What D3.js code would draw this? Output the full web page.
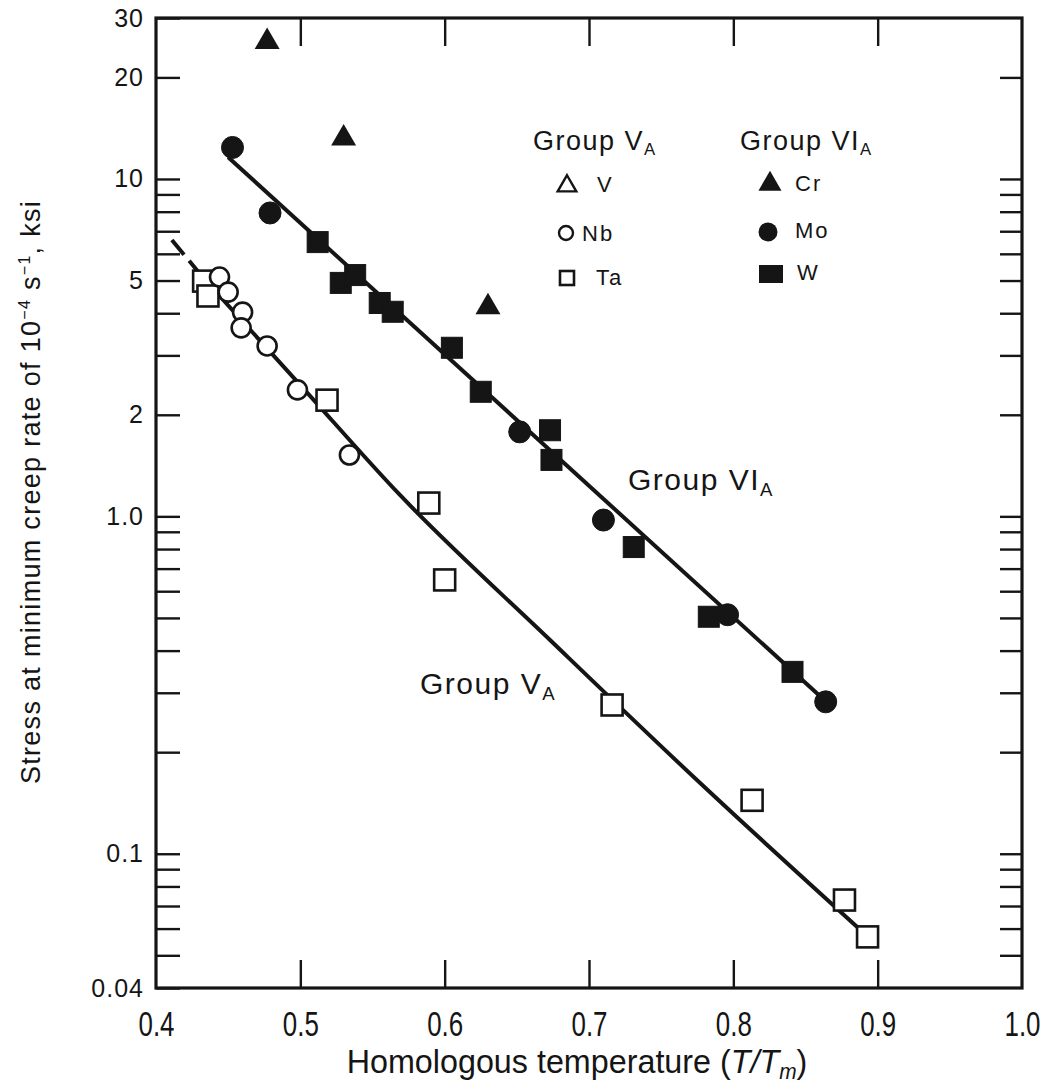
<!DOCTYPE html>
<html>
<head>
<meta charset="utf-8">
<script src="https://cdn.jsdelivr.net/npm/d3@7/dist/d3.min.js"></script>
<style>
  body { margin: 0; background: #fff; }
  svg { display: block; }
  text { fill: #151515; font-family: "Liberation Sans", Arial, sans-serif; }
</style>
</head>
<body>
<div id="plot-container"></div>
<script>
// axis ticks
var xTicks = [0.4, 0.5, 0.6, 0.7, 0.8, 0.9, 1.0];
var xTickLabels = ["0.4", "0.5", "0.6", "0.7", "0.8", "0.9", "1.0"];
var xInnerTicks = [0.5, 0.6, 0.7, 0.8, 0.9];
var yTicks = [0.04, 0.05, 0.06, 0.07, 0.08, 0.09, 0.1, 0.2, 0.3, 0.4, 0.5, 0.6, 0.7, 0.8, 0.9,
              1, 2, 3, 4, 5, 6, 7, 8, 9, 10, 20, 30];
var yLabelValues = [30, 20, 10, 5, 2, 1, 0.1, 0.04];
var yLabelText = ["30", "20", "10", "5", "2", "1.0", "0.1", "0.04"];

// Group VA (open symbols)
var nbT = [0.444, 0.450, 0.460, 0.459, 0.477, 0.498, 0.534];
var nbS = [5.12, 4.62, 4.03, 3.62, 3.20, 2.37, 1.52];
var taT = [0.433, 0.436, 0.5185, 0.589, 0.600, 0.716, 0.813, 0.877, 0.893];
var taS = [4.98, 4.50, 2.21, 1.095, 0.648, 0.276, 0.144, 0.0729, 0.0567];

// Group VIA (filled symbols)
var crT = [0.477, 0.530, 0.630];
var crS = [25.5, 13.2, 4.17];
var moT = [0.453, 0.479, 0.652, 0.710, 0.796, 0.864];
var moS = [12.4, 7.93, 1.78, 0.975, 0.511, 0.282];
var wT = [0.512, 0.528, 0.538, 0.555, 0.564, 0.605, 0.625, 0.673, 0.674, 0.731, 0.783, 0.841];
var wS = [6.50, 4.92, 5.19, 4.29, 4.04, 3.16, 2.34, 1.80, 1.47, 0.811, 0.504, 0.346];

// fitted lines
var fitVIT = [0.450, 0.8615];
var fitVIS = [11.6, 0.2895];
var fitVDashT = [0.411, 0.434];
var fitVDashS = [6.59, 5.02];
var fitVT = [0.434, 0.500, 0.569, 0.673, 0.777, 0.892];
var fitVS = [5.02, 2.45, 1.157, 0.430, 0.162, 0.0574];

var W = 1053, H = 1089;
var padL = 156, padR = 1022, padT = 18, padB = 988;
var ink = "#151515";

var svg = d3.select("#plot-container").append("svg")
    .attr("width", W)
    .attr("height", H)
    .style("background-color", "#fff");

var x = d3.scaleLinear().domain([0.4, 1.0]).range([padL, padR]);
var y = d3.scaleLog().domain([0.04, 30]).range([padB, padT]);

function zip(a, b) { return a.map(function (v, i) { return [v, b[i]]; }); }

function labelFor(v) {
    var i = yLabelValues.findIndex(function (d) { return Math.abs(d - v) < 1e-9; });
    return i < 0 ? "" : yLabelText[i];
}

// left axis
var gl = svg.append("g").attr("transform", "translate(" + padL + ",0)")
    .call(d3.axisLeft(y).tickValues(yTicks).tickSize(-24).tickPadding(12).tickFormat(labelFor));
gl.select(".domain").remove();
gl.selectAll("line").attr("stroke", ink).attr("stroke-width", 2.4);
gl.selectAll("text").style("font-size", "25px").style("letter-spacing", "1px")
    .style("font-family", "'Liberation Sans', Arial, sans-serif").attr("fill", ink);

// right axis
var gr = svg.append("g").attr("transform", "translate(" + padR + ",0)")
    .call(d3.axisRight(y).tickValues(yTicks.filter(function (v) { return v > 0.04 && v < 30; }))
        .tickSize(-22).tickFormat(""));
gr.select(".domain").remove();
gr.selectAll("line").attr("stroke", ink).attr("stroke-width", 2.4);

// bottom axis (narrow, tall digits like the scan)
var gb = svg.append("g").attr("transform", "translate(0," + padB + ")")
    .call(d3.axisBottom(x).tickValues(xTicks).tickSize(-28).tickPadding(22)
        .tickFormat(function (d, i) { return xTickLabels[i]; }));
gb.select(".domain").remove();
gb.selectAll("line").attr("stroke", ink).attr("stroke-width", 2.4)
    .attr("display", function (d) { return (d < 0.45 || d > 0.95) ? "none" : null; });
gb.selectAll("text").style("font-size", "36px")
    .attr("transform", "scale(0.72,1)")
    .style("font-family", "'Liberation Sans', Arial, sans-serif").attr("fill", ink);

// top axis
var gt = svg.append("g").attr("transform", "translate(0," + padT + ")")
    .call(d3.axisTop(x).tickValues(xInnerTicks).tickSize(-28).tickFormat(""));
gt.select(".domain").remove();
gt.selectAll("line").attr("stroke", ink).attr("stroke-width", 2.4);

// frame
svg.append("rect")
    .attr("x", padL).attr("y", padT)
    .attr("width", padR - padL).attr("height", padB - padT)
    .attr("fill", "none").attr("stroke", ink).attr("stroke-width", 3.2);

// lines
var line = d3.line().x(function (d) { return x(d[0]); }).y(function (d) { return y(d[1]); });
svg.append("path").datum(zip(fitVIT, fitVIS))
    .attr("d", line).attr("fill", "none").attr("stroke", ink).attr("stroke-width", 4);
svg.append("path").datum(zip(fitVT, fitVS))
    .attr("d", d3.line().x(function (d) { return x(d[0]); }).y(function (d) { return y(d[1]); })
        .curve(d3.curveMonotoneX))
    .attr("fill", "none").attr("stroke", ink).attr("stroke-width", 4);
svg.append("path").datum(zip(fitVDashT, fitVDashS))
    .attr("d", line)
    .attr("fill", "none").attr("stroke", ink).attr("stroke-width", 4).attr("stroke-dasharray", "19,8");

// markers
var tri = d3.symbol().type(d3.symbolTriangle).size(270);

function squares(tv, sv, filled) {
    svg.append("g").selectAll("rect").data(zip(tv, sv)).enter().append("rect")
        .attr("x", function (d) { return x(d[0]) - 10.5; })
        .attr("y", function (d) { return y(d[1]) - 10.5; })
        .attr("width", 21).attr("height", 21)
        .attr("fill", filled ? ink : "#fff")
        .attr("stroke", ink).attr("stroke-width", filled ? 1 : 2.6);
}
function circles(tv, sv, filled) {
    svg.append("g").selectAll("circle").data(zip(tv, sv)).enter().append("circle")
        .attr("cx", function (d) { return x(d[0]); })
        .attr("cy", function (d) { return y(d[1]); })
        .attr("r", filled ? 11 : 9.5)
        .attr("fill", filled ? ink : "#fff")
        .attr("stroke", ink).attr("stroke-width", filled ? 1 : 2.6);
}

squares(taT, taS, false);
circles(nbT, nbS, false);
squares(wT, wS, true);
circles(moT, moS, true);
svg.append("g").selectAll("path").data(zip(crT, crS)).enter().append("path")
    .attr("d", tri)
    .attr("transform", function (d) { return "translate(" + x(d[0]) + "," + y(d[1]) + ")"; })
    .attr("fill", ink);

// group labels with subscript A
function groupText(px, py, roman, size) {
    var t = svg.append("text").attr("x", px).attr("y", py)
        .style("font-size", size + "px").style("letter-spacing", "1.5px");
    t.append("tspan").text("Group " + roman);
    t.append("tspan").attr("dy", size * 0.2).style("font-size", (size * 0.62) + "px").text("A");
}

// legend
groupText(533, 150, "V", 27);
groupText(740, 150, "VI", 27);

var legL = svg.append("g");
legL.append("path").attr("d", d3.symbol().type(d3.symbolTriangle).size(150))
    .attr("transform", "translate(567,186)").attr("fill", "none").attr("stroke", ink).attr("stroke-width", 2.4);
legL.append("circle").attr("cx", 566).attr("cy", 233).attr("r", 7)
    .attr("fill", "none").attr("stroke", ink).attr("stroke-width", 2.4);
legL.append("rect").attr("x", 560).attr("y", 271).attr("width", 14).attr("height", 14)
    .attr("fill", "none").attr("stroke", ink).attr("stroke-width", 2.6);
legL.append("path").attr("d", d3.symbol().type(d3.symbolTriangle).size(230))
    .attr("transform", "translate(770,184)").attr("fill", ink);
legL.append("circle").attr("cx", 768).attr("cy", 232).attr("r", 9.5).attr("fill", ink);
legL.append("rect").attr("x", 759).attr("y", 265).attr("width", 24).attr("height", 18).attr("fill", ink);

var legText = [["V", 597, 192], ["Nb", 582, 241], ["Ta", 596, 285],
               ["Cr", 795, 191], ["Mo", 795, 238], ["W", 797, 280]];
svg.append("g").selectAll("text").data(legText).enter().append("text")
    .attr("x", function (d) { return d[1]; })
    .attr("y", function (d) { return d[2]; })
    .style("font-size", "22px").style("letter-spacing", "2px")
    .text(function (d) { return d[0]; });

// in-plot labels
groupText(628, 490, "VI", 30);
groupText(420, 694, "V", 30);

// x axis title
var xt = svg.append("text").attr("transform", "translate(577,1073) scale(0.95,1)")
    .attr("text-anchor", "middle")
    .style("font-size", "34px");
xt.append("tspan").text("Homologous temperature (");
xt.append("tspan").style("font-style", "italic").text("T/T");
xt.append("tspan").style("font-style", "italic").style("font-size", "22px").attr("dy", 6).text("m");
xt.append("tspan").attr("dy", -6).text(")");

// y axis title
var yt = svg.append("text")
    .attr("transform", "translate(40,492) rotate(-90)")
    .attr("text-anchor", "middle")
    .style("font-size", "27px").style("letter-spacing", "1.3px");
yt.append("tspan").text("Stress at minimum creep rate of 10");
yt.append("tspan").attr("dy", -10).style("font-size", "16px").text("\u22124");
yt.append("tspan").attr("dy", 10).text(" s");
yt.append("tspan").attr("dy", -10).style("font-size", "16px").text("\u22121");
yt.append("tspan").attr("dy", 10).text(", ksi");
</script>
</body>
</html>
